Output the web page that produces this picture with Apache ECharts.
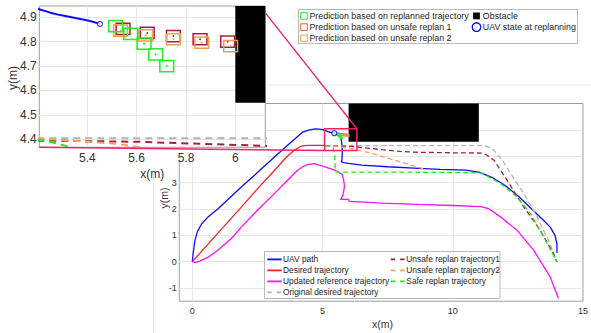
<!DOCTYPE html>
<html><head><meta charset="utf-8">
<script src="https://cdn.jsdelivr.net/npm/echarts@6/dist/echarts.min.js"></script>
<style>html,body{margin:0;padding:0;background:#fff}#c{width:591px;height:333px}</style>
</head><body><div id="c"></div>
<script>
// ---------------- data ----------------
const replanX = 5.451, replanY = 4.873;
const uavX = [0,0.03,0.1,0.2,0.36,0.6,1.0,1.88,2.5,3.15,3.8,4.23,4.5,4.73,4.95,5.12,5.205,5.25,5.29,5.357,5.411,replanX,5.56,5.66,5.72,5.75,5.76,5.74,5.72,5.8,6.0,6.5,7.5,8.5,9.5,10.5,11.0,11.5,12.0,12.5,13.1,13.5,13.75,13.93,14.0,14.0];
const uavY = [0,0.3,0.81,1.15,1.44,1.69,2.02,2.83,3.38,3.97,4.54,4.91,5.0,5.04,5.02,4.97,4.933,4.919,4.909,4.896,4.885,replanY,4.83,4.76,4.62,4.4,4.1,3.85,3.79,3.76,3.73,3.66,3.6,3.55,3.5,3.47,3.4,3.2,2.9,2.5,1.93,1.55,1.3,0.99,0.67,0.33];
const desiredX = [0,0.5,1.0,1.88,2.5,3.15,3.6,3.9,4.16,4.3,4.48,4.8,5.1];
const desiredY = [0,0.55,1.1,2.07,2.76,3.46,3.95,4.22,4.37,4.40,4.41,4.41,4.41];
const updatedX = [0,0.1,0.3,0.61,1.0,1.5,1.88,2.5,3.15,3.6,4.0,4.23,4.45,4.67,4.9,5.12,5.5,5.75,5.81,5.84,5.8,5.75,5.69,5.85,6.0,6.02,6.64,7.27,8.67,10.0,11.08,11.4,11.84,12.47,13.11,13.74,14.06];
const updatedY = [0,-0.04,0.03,0.17,0.45,0.88,1.31,1.95,2.58,3.03,3.43,3.6,3.69,3.72,3.65,3.59,3.46,3.31,3.1,2.85,2.6,2.45,2.36,2.36,2.36,2.29,2.26,2.22,2.17,2.13,2.09,2.0,1.69,1.19,0.43,-0.58,-1.40];
const originalX = [5.1,6,8,10,11.0,11.21,11.4,11.59,11.9,12.22,12.73,13.24,13.74,13.93,14.0];
const originalY = [4.404,4.404,4.404,4.404,4.404,4.40,4.34,4.22,3.85,3.34,2.58,1.69,0.68,0.11,0.0];
const unsafe1X = [5.1,5.6,6.12,6.5,7.27,8.0,8.67,10.0,11.1,11.3,11.59,12.09,12.73,13.36,13.87,14.0];
const unsafe1Y = [4.396,4.39,4.373,4.33,4.25,4.18,4.15,4.13,4.12,4.05,3.84,3.08,2.07,1.19,0.30,0.0];
const unsafe2X = [5.1,5.2,5.4,5.52,5.62,6.0,6.5,7.0,7.5,8.0,8.5,8.9];
const unsafe2Y = [4.404,4.403,4.39,4.381,4.366,4.31,4.2,4.08,3.93,3.78,3.63,3.52];
const safeX = [5.1,5.2054,5.25,5.316,5.4,5.44,5.47,5.48,5.5,5.6,8.0,11.1,11.4,11.84,12.47,12.98,13.49,14.0];
const safeY = [4.40,4.398,4.39,4.372,4.32,4.2,4.0,3.6,3.42,3.40,3.40,3.37,3.2,2.96,2.45,1.82,0.93,0.0];
// prediction boxes (centres)
const predSafeX = [5.515,5.576,5.630,5.677,5.722];
const predSafeY = [4.864,4.832,4.792,4.748,4.700];
const predU1X = [5.545,5.643,5.749,5.857,5.969];
const predU1Y = [4.853,4.836,4.823,4.810,4.800];
const predU2X = [5.535,5.637,5.749,5.864,5.981];
const predU2Y = [4.845,4.826,4.810,4.796,4.782];
// obstacle [xmin, ymin, xmax, ymax]
const obstacle = [6, 4.55, 11, 6];
// zoom region drawn on the main plot [xmin, ymin, xmax, ymax]
const zoomRegion = [5.078, 4.219, 6.319, 5.042];
// axis ranges
const mainXRange = [-0.5, 15], mainYRange = [-1.5, 6];
const insetXRange = [5.2054, 6.1216], insetYRange = [4.3672, 4.9463];
const mainXTickStep = 5, mainYTickStep = 1, insetXTickStep = 0.2, insetYTickStep = 0.1;

// ---------------- styling ----------------
const FONT = "'Liberation Sans', Arial, Helvetica, sans-serif";
const C = {
  uav:'#0d0dff', desired:'#ff2222', updated:'#ff10ff', original:'#b4b4b4',
  unsafe1:'#a3223a', unsafe2:'#f3a35f', safe:'#1aee1a',
  boxSafe:'#22f022', boxU1:'#a3223a', boxU2:'#f0a050', zoom:'#f0226c'
};
const zip = (xs, ys) => xs.map((x,i)=>[x, ys[i]]);
const replanIdx = uavX.indexOf(replanX);

const lineDefs = [
  {name:'UAV path', x:uavX, y:uavY, color:C.uav, dash:null},
  {name:'Desired trajectory', x:desiredX, y:desiredY, color:C.desired, dash:null},
  {name:'Updated reference trajectory', x:updatedX, y:updatedY, color:C.updated, dash:null},
  {name:'Original desired trajectory', x:originalX, y:originalY, color:C.original, dash:true},
  {name:'Unsafe replan trajectory1', x:unsafe1X, y:unsafe1Y, color:C.unsafe1, dash:true},
  {name:'Unsafe replan trajectory2', x:unsafe2X, y:unsafe2Y, color:C.unsafe2, dash:true},
  {name:'Safe replan trajectory', x:safeX, y:safeY, color:C.safe, dash:true}
];

function boxRender(color, w, h, lw){
  return function(params, api){
    const cx = api.value(0), cy = api.value(1);
    const p0 = api.coord([cx - w/2, cy + h/2]);
    const p1 = api.coord([cx + w/2, cy - h/2]);
    const c = api.coord([cx, cy]);
    return {type:'group', children:[
      {type:'rect', shape:{x:p0[0], y:p0[1], width:p1[0]-p0[0], height:p1[1]-p0[1]}, style:{fill:'none', stroke:color, lineWidth:lw}},
      {type:'circle', shape:{cx:c[0], cy:c[1], r:0.9}, style:{fill:color}}
    ]};
  };
}
function rectRender(fill, stroke, lw){
  return function(params, api){
    const p0 = api.coord([api.value(0), api.value(3)]);
    const p1 = api.coord([api.value(2), api.value(1)]);
    const r = echarts.graphic.clipRectByRect(
      {x:p0[0], y:p0[1], width:p1[0]-p0[0], height:p1[1]-p0[1]},
      {x:params.coordSys.x, y:params.coordSys.y, width:params.coordSys.width, height:params.coordSys.height});
    if (!r) return null;
    return {type:'rect', shape:r, style:{fill:fill, stroke:stroke, lineWidth:lw}};
  };
}

const series = [];
// main plot
lineDefs.forEach(d => series.push({
  type:'line', name:d.name, xAxisIndex:0, yAxisIndex:0, z:2,
  data: zip(d.x, d.y), showSymbol:false, symbol:'none', clip:true, animation:false,
  lineStyle:{color:d.color, width:1.3, type: d.dash ? [5,3] : 'solid'}
}));
const boxW = 0.056, boxH = 0.046;
const boxDefs = [[predU1X,predU1Y,C.boxU1],[predU2X,predU2Y,C.boxU2],[predSafeX,predSafeY,C.boxSafe]];
function addCommon(gi, zBase, lw){
  series.push({type:'custom', xAxisIndex:gi, yAxisIndex:gi, z:zBase, coordinateSystem:'cartesian2d',
    renderItem: rectRender('#000','none',0), data:[obstacle], encode:{x:[0,2], y:[1,3]}, silent:true, animation:false});
  boxDefs.forEach(b => series.push({type:'custom', xAxisIndex:gi, yAxisIndex:gi, z:zBase+1, coordinateSystem:'cartesian2d',
    renderItem: boxRender(b[2], boxW, boxH, lw), data: zip(b[0], b[1]), encode:{x:0,y:1}, silent:true, animation:false}));
  series.push({type:'scatter', xAxisIndex:gi, yAxisIndex:gi, z:zBase+2, data:[[replanX, replanY]], symbol:'circle', symbolSize:5,
    itemStyle:{color:'#fff', borderColor:C.uav, borderWidth:1.2}, silent:true, animation:false});
}
addCommon(0, 2, 1.5);
series.push({type:'custom', xAxisIndex:0, yAxisIndex:0, z:4, coordinateSystem:'cartesian2d',
  renderItem:function(params, api){
    const p0 = api.coord([api.value(0), api.value(3)]);
    const p1 = api.coord([api.value(2), api.value(1)]);
    return {type:'rect', shape:{x:p0[0], y:p0[1], width:p1[0]-p0[0], height:p1[1]-p0[1]}, style:{fill:'none', stroke:C.zoom, lineWidth:1.5}};
  }, data:[zoomRegion], encode:{x:[0,2], y:[1,3]}, silent:true, animation:false});
// inset
lineDefs.forEach((d, i) => {
  if (i === 1 || i === 2) return;
  const xs = i === 0 ? d.x.slice(0, replanIdx+1) : d.x;
  const ys = i === 0 ? d.y.slice(0, replanIdx+1) : d.y;
  series.push({type:'line', xAxisIndex:1, yAxisIndex:1, z:5, data: zip(xs, ys), showSymbol:false, symbol:'none', clip:true, animation:false,
    lineStyle:{color:d.color, width:2, type: d.dash ? [7,5] : 'solid'}});
});
addCommon(1, 6, 1.5);

const axisLabelStyle = {color:'#333', fontFamily:FONT};
const option = {
  animation:false,
  backgroundColor:'#fff',
  grid:[
    {left:179.3, top:103.5, width:407, height:197.7, show:true, z:0, backgroundColor:'transparent', borderColor:'#9d9d9d', borderWidth:1},
    {left:39.3, top:6, width:226, height:141.3, show:true, z:3, backgroundColor:'#fff', borderColor:'#9d9d9d', borderWidth:1}
  ],
  xAxis:[
    {gridIndex:0, type:'value', min:mainXRange[0], max:mainXRange[1], minInterval:mainXTickStep, maxInterval:mainXTickStep, z:0,
     axisLine:{show:false}, axisTick:{show:false},
     axisLabel:Object.assign({fontSize:9, margin:5, showMinLabel:false}, axisLabelStyle),
     splitLine:{show:true, showMinLine:false, showMaxLine:false, lineStyle:{color:'#e8e8e8', width:1}}},
    {gridIndex:1, type:'value', min:insetXRange[0], max:insetXRange[1], minInterval:insetXTickStep, maxInterval:insetXTickStep, z:4,
     axisLine:{show:false}, axisTick:{show:false},
     axisLabel:Object.assign({fontSize:12, margin:4.5, showMinLabel:false, showMaxLabel:false}, axisLabelStyle),
     splitLine:{show:true, showMinLine:false, showMaxLine:false, lineStyle:{color:'#e8e8e8', width:1}}}
  ],
  yAxis:[
    {gridIndex:0, type:'value', min:mainYRange[0], max:mainYRange[1], minInterval:mainYTickStep, maxInterval:mainYTickStep, z:0,
     axisLine:{show:false}, axisTick:{show:false},
     axisLabel:Object.assign({fontSize:9, margin:2.5, showMinLabel:false, formatter:v => v <= 3 ? String(v) : ''}, axisLabelStyle),
     splitLine:{show:true, showMinLine:false, showMaxLine:false, lineStyle:{color:'#e8e8e8', width:1}}},
    {gridIndex:1, type:'value', min:insetYRange[0], max:insetYRange[1], minInterval:insetYTickStep, maxInterval:insetYTickStep, z:4,
     axisLine:{show:false}, axisTick:{show:false},
     axisLabel:Object.assign({fontSize:12, margin:2.6, showMinLabel:false, showMaxLabel:false}, axisLabelStyle),
     splitLine:{show:true, showMinLine:false, showMaxLine:false, lineStyle:{color:'#e8e8e8', width:1}}}
  ],
  series: series
};

const chart = echarts.init(document.getElementById('c'), null, {renderer:'svg', width:591, height:333});
chart.setOption(option);

// ---------------- annotations and legends ----------------
const els = [];
// white panel behind the inset
els.push({type:'rect', z:1, shape:{x:0, y:0, width:266, height:160}, style:{fill:'#fff'}, silent:true});
els.push({type:'line', z:0, shape:{x1:266, y1:85, x2:591, y2:85}, style:{stroke:'#e9e9e9', lineWidth:1}});
els.push({type:'line', z:0, shape:{x1:153.5, y1:168, x2:153.5, y2:333}, style:{stroke:'#e9e9e9', lineWidth:1}});
// connectors
const mTR = chart.convertToPixel({gridIndex:0}, [zoomRegion[2], zoomRegion[3]]);
const mBL = chart.convertToPixel({gridIndex:0}, [zoomRegion[0], zoomRegion[1]]);
const iR = chart.convertToPixel({gridIndex:1}, [insetXRange[1], 4.918]);
const iBL = chart.convertToPixel({gridIndex:1}, [insetXRange[0], insetYRange[0]]);
els.push({type:'line', z:7, shape:{x1:iR[0], y1:iR[1], x2:mTR[0], y2:mTR[1]}, style:{stroke:C.zoom, lineWidth:1.3}});
els.push({type:'line', z:7, shape:{x1:iBL[0], y1:iBL[1], x2:mBL[0], y2:mBL[1]}, style:{stroke:C.zoom, lineWidth:1.5}});
// axis names
const nameStyle = (s)=>({fill:'#333', font: s+'px '+FONT, align:'center', verticalAlign:'middle'});
els.push({type:'text', z:5, x:382.5, y:323.5, style:Object.assign({text:'x(m)'}, nameStyle(10.5))});
els.push({type:'text', z:5, x:163.5, y:198, rotation:Math.PI/2, style:Object.assign({text:'y(m)'}, nameStyle(10.5))});
els.push({type:'text', z:5, x:152.3, y:173.5, style:Object.assign({text:'x(m)'}, nameStyle(12))});
els.push({type:'text', z:5, x:12.5, y:78, rotation:Math.PI/2, style:Object.assign({text:'y(m)'}, nameStyle(12))});

// main legend (built from the line definitions, column-major)
const lg = {x:264.5, y:251.5, w:235.5, h:47, row0:259.4, dy:11.0, cols:[{ix:267.3, tx:283}, {ix:390.7, tx:406.3}]};
els.push({type:'rect', z:10, shape:{x:lg.x, y:lg.y, width:lg.w, height:lg.h}, style:{fill:'#fff', stroke:'#a8a8a8', lineWidth:0.8}});
lineDefs.forEach((d, i) => {
  const col = lg.cols[i < 4 ? 0 : 1];
  const yy = lg.row0 + (i < 4 ? i : i - 4) * lg.dy;
  els.push({type:'line', z:11, shape:{x1:col.ix, y1:yy, x2:col.ix+14.3, y2:yy},
    style:{stroke:d.color, lineWidth:d.dash ? 1.6 : 1.8, lineDash: d.dash ? [4.4, 5] : null}});
  els.push({type:'text', z:11, x:col.tx, y:yy, style:{text:d.name, fill:'#262626', font:'8.4px '+FONT, align:'left', verticalAlign:'middle'}});
});
// inset legend
const lg2 = {x:298.5, y:9.5, w:279, h:34, rows:[15.9, 27.1, 38.3]};
els.push({type:'rect', z:10, shape:{x:lg2.x, y:lg2.y, width:lg2.w, height:lg2.h}, style:{fill:'#fff', stroke:'#a8a8a8', lineWidth:0.8}});
const lg2Items = [
  {name:'Prediction based on replanned trajectory', col:0, row:0, kind:'sq', color:'#22ee22'},
  {name:'Prediction based on unsafe replan 1', col:0, row:1, kind:'sq', color:'#e0603a'},
  {name:'Prediction based on unsafe replan 2', col:0, row:2, kind:'sq', color:'#f2a054'},
  {name:'Obstacle', col:1, row:0, kind:'fill', color:'#000'},
  {name:'UAV state at replanning', col:1, row:1, kind:'circle', color:C.uav}
];
const lg2Cols = [{cx:304, tx:309.4}, {cx:476.5, tx:482.8}];
lg2Items.forEach(it => {
  const c = lg2Cols[it.col], yy = lg2.rows[it.row];
  if (it.kind === 'sq') els.push({type:'rect', z:11, shape:{x:c.cx-3.3, y:yy-3.3, width:6.6, height:6.6}, style:{fill:'none', stroke:it.color, lineWidth:1}});
  else if (it.kind === 'fill') els.push({type:'rect', z:11, shape:{x:c.cx-3.4, y:yy-3.4, width:6.8, height:6.8}, style:{fill:it.color}});
  else els.push({type:'circle', z:11, shape:{cx:c.cx, cy:yy, r:4.3}, style:{fill:'none', stroke:it.color, lineWidth:1.3}});
  els.push({type:'text', z:11, x:c.tx, y:yy, style:{text:it.name, fill:'#262626', font:'8.9px '+FONT, align:'left', verticalAlign:'middle'}});
});
chart.setOption({graphic:[{elements:els}]});
</script></body></html>
